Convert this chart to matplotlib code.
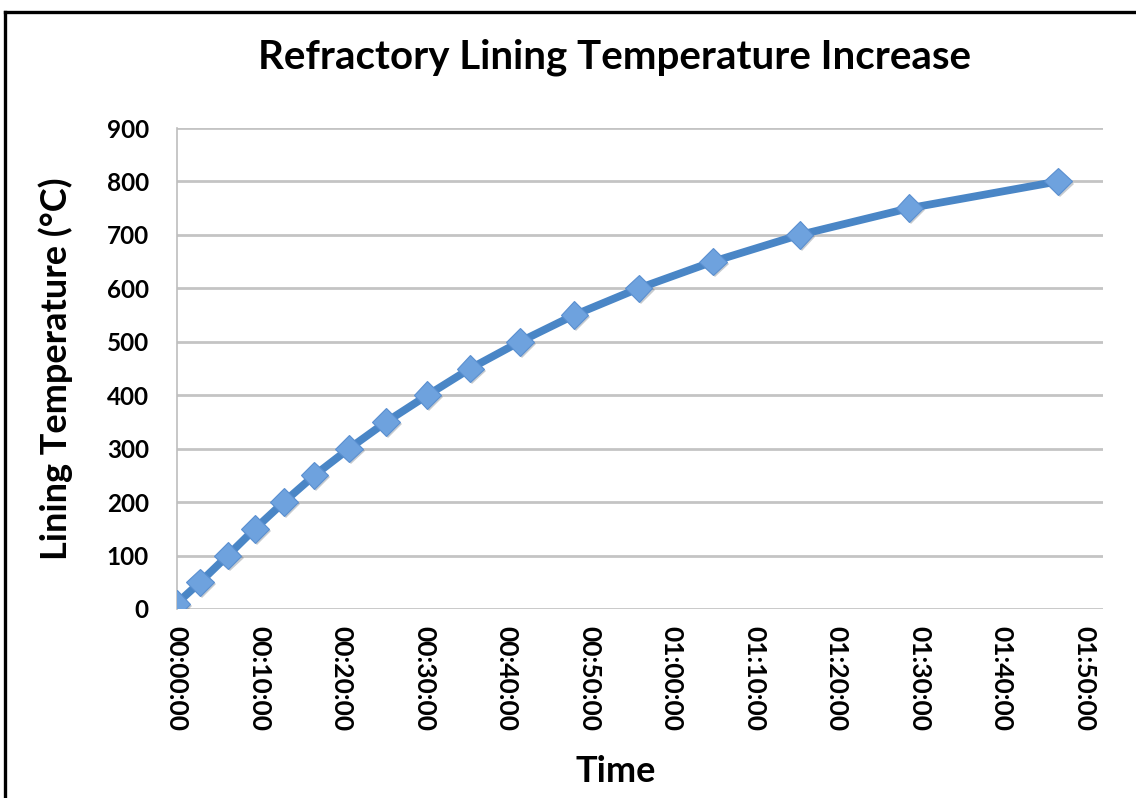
import matplotlib
matplotlib.use("Agg")
import matplotlib.pyplot as plt
from matplotlib.lines import Line2D
from matplotlib.ticker import FuncFormatter, MultipleLocator
import matplotlib.patheffects as pe

# Elapsed time (minutes) and measured lining temperature (°C)
time_min = [0.0, 2.85, 6.2, 9.5, 13.0, 16.7, 20.9, 25.4, 30.4, 35.6,
            41.6, 48.2, 56.0, 65.0, 75.5, 88.8, 106.8]
temperature_c = [10, 50, 100, 150, 200, 250, 300, 350, 400, 450,
                 500, 550, 600, 650, 700, 750, 800]

title = "Refractory Lining Temperature Increase"
x_label = "Time"
y_label = "Lining Temperature (°C)"

FONT = ["Lato", "DejaVu Sans"]

fig = plt.figure(figsize=(11.36, 7.98), dpi=100)
ax = fig.add_axes([176.5 / 1136, 1 - 609 / 798,
                   (1102.5 - 176.5) / 1136, (609 - 128) / 798])

# Series line
ax.plot(time_min, temperature_c, color="#4A86C6", lw=5.6,
        solid_joinstyle="round", solid_capstyle="round", zorder=3)
# Diamond markers with a soft drop shadow
ax.plot(time_min, temperature_c, ls="none", zorder=4,
        marker="D", markersize=14, markerfacecolor="#6EA2DE",
        markeredgecolor="#5A8FD0", markeredgewidth=0.8,
        path_effects=[pe.SimplePatchShadow(offset=(1.5, -1.5), alpha=0.25),
                      pe.Normal()])

ax.set_xlim(0, 112.2)
ax.set_ylim(0, 900)
ax.xaxis.set_major_locator(MultipleLocator(10))
ax.yaxis.set_major_locator(MultipleLocator(100))


def hms(v, _pos):
    total = int(round(v * 60))
    h, rem = divmod(total, 3600)
    m, s = divmod(rem, 60)
    return f"{h:02d}:{m:02d}:{s:02d}"


ax.xaxis.set_major_formatter(FuncFormatter(hms))

ax.grid(axis="y", color="#C4C4C4", lw=2.0, zorder=0)
ax.set_axisbelow(True)
for side in ("top", "right", "bottom"):
    ax.spines[side].set_visible(False)
ax.spines["left"].set_color("#BDBDBD")
ax.spines["left"].set_linewidth(1.2)

ax.tick_params(axis="both", length=0)
ax.tick_params(axis="y", pad=20)
ax.tick_params(axis="x", pad=12)
for lbl in ax.get_yticklabels():
    lbl.set_fontfamily(FONT)
    lbl.set_fontweight("bold")
    lbl.set_fontsize(17.5)
for lbl in ax.get_xticklabels():
    lbl.set_fontfamily(FONT)
    lbl.set_fontweight("bold")
    lbl.set_fontsize(19)
    lbl.set_rotation(-90)
    lbl.set_va("top")
    lbl.set_ha("center")

ax.set_xlabel(x_label, fontfamily=FONT, fontweight="bold", fontsize=26,
              va="center")
ax.xaxis.set_label_coords((616 - 176.5) / 926, -(771 - 609) / 481)
ax.set_ylabel(y_label, fontfamily=FONT, fontweight="bold", fontsize=26,
              labelpad=24)
fig.text(614 / 1136, 1 - 57 / 798, title, fontfamily=FONT,
         fontweight="bold", fontsize=29, ha="center", va="center")

# Chart frame
fig.add_artist(Line2D([5 / 1136, 1.0], [1 - 12 / 798, 1 - 12 / 798],
                      transform=fig.transFigure, color="black", lw=2.4))
fig.add_artist(Line2D([5 / 1136, 5 / 1136], [0.0, 1 - 12 / 798],
                      transform=fig.transFigure, color="black", lw=2.4))

fig.savefig("out.png", dpi=100)
